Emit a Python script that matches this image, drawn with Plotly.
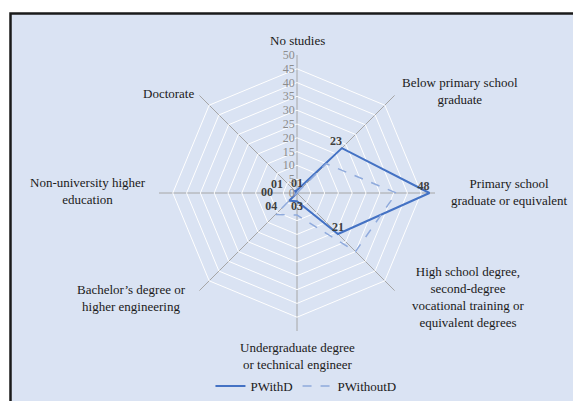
import plotly.graph_objects as go

categories = [
    "No studies",
    "Below primary school<br>graduate",
    "Primary school<br>graduate or equivalent",
    "High school degree,<br>second-degree<br>vocational training or<br>equivalent degrees",
    "Undergraduate degree<br>or technical engineer",
    "Bachelor\u2019s degree or<br>higher engineering",
    "Non-university higher<br>education",
    "Doctorate",
]
p_with_d = [1, 23, 48, 21, 3, 4, 0, 1]
p_without_d = [0, 15, 36, 30, 8, 11, 0, 0]
radial_ticks = list(range(0, 55, 5))

# label placement (layout only)
label_pos = ["top center", "top left", "top left", "top center",
             "bottom center", "bottom left", "middle left", "top left"]
label_pad = [0, 0, 0, 0, 0, 2, 4, 2]   # invisible padding, in digit widths

# page has an 8px body margin; work in figure pixels
OFF = 8
W, H = 581 - OFF, 401 - OFF
cx, cy, R = 297 - OFF, 193 - OFF, 138
cat_label_px = [(297, 40), (460, 91), (509, 192), (468, 297),
                (297, 356), (131, 298), (88, 191), (168, 93)]

theta = categories + [categories[0]]

def ghost(n):
    return f"<span style='color:rgba(0,0,0,0)'>{'0' * n}</span>" if n else ""

def lab(v, pos, pad):
    s = f"{v:02d}"
    return s + ghost(pad) if "left" in pos else ghost(pad) + s

def plot_r(vals):
    # a point exactly at the pole is culled by plotly's polygon grid test;
    # nudge zeros by a sub-pixel amount so they (and their labels) are drawn
    vals = [v if v else 0.02 for v in vals]
    return vals + [vals[0]]

fig = go.Figure()
fig.add_trace(go.Scatterpolar(
    r=plot_r(p_with_d), theta=theta, name="PWithD",
    mode="lines+text", cliponaxis=False,
    text=[lab(v, p, d) for v, p, d in zip(p_with_d, label_pos, label_pad)] + [""],
    textposition=label_pos + ["top right"],
    textfont=dict(family="Liberation Serif", size=12, color="#404040", weight="bold"),
    line=dict(color="#4472C4", width=2),
))
fig.add_trace(go.Scatterpolar(
    r=plot_r(p_without_d), theta=theta, name="PWithoutD",
    mode="lines", cliponaxis=False,
    line=dict(color="#8FAADC", width=1.5, dash="dash"),
))

annotations = [
    dict(text=c, x=(px - OFF) / W, y=1 - (py - OFF) / H, xref="paper", yref="paper",
         xanchor="center", yanchor="middle", showarrow=False, align="center",
         font=dict(family="Liberation Serif", size=13, color="#1a1a1a"))
    for c, (px, py) in zip(categories, cat_label_px)
]

fig.update_layout(
    width=W, height=H,
    margin=dict(l=0, r=0, t=0, b=0),
    paper_bgcolor="white",
    font=dict(family="Liberation Serif", size=13, color="#1a1a1a"),
    shapes=[dict(type="rect", xref="paper", yref="paper",
                 x0=2.5 / W, x1=1.02, y0=-0.02, y1=1 - 5.5 / H,
                 fillcolor="#DAE3F3", line=dict(color="#1a1a1a", width=2.5),
                 layer="below")],
    annotations=annotations,
    polar=dict(
        domain=dict(x=[(cx - R) / W, (cx + R) / W],
                    y=[(H - cy - R) / H, (H - cy + R) / H]),
        bgcolor="rgba(0,0,0,0)",
        gridshape="linear",
        radialaxis=dict(range=[0, 50], tickvals=radial_ticks, angle=90,
                        side="counterclockwise", tickangle=90,
                        showline=False, ticks="",
                        gridcolor="white", gridwidth=1,
                        tickfont=dict(size=12, color="#8c8c8c")),
        angularaxis=dict(direction="clockwise", rotation=90,
                         showline=False, ticks="", showticklabels=False,
                         gridcolor="#a6a6a6", gridwidth=1),
    ),
    showlegend=True,
    legend=dict(orientation="h", x=0.52, xanchor="center", y=0.0, yanchor="bottom",
                bgcolor="rgba(0,0,0,0)", font=dict(size=13, color="#1a1a1a")),
)

fig.write_html("out.html")
